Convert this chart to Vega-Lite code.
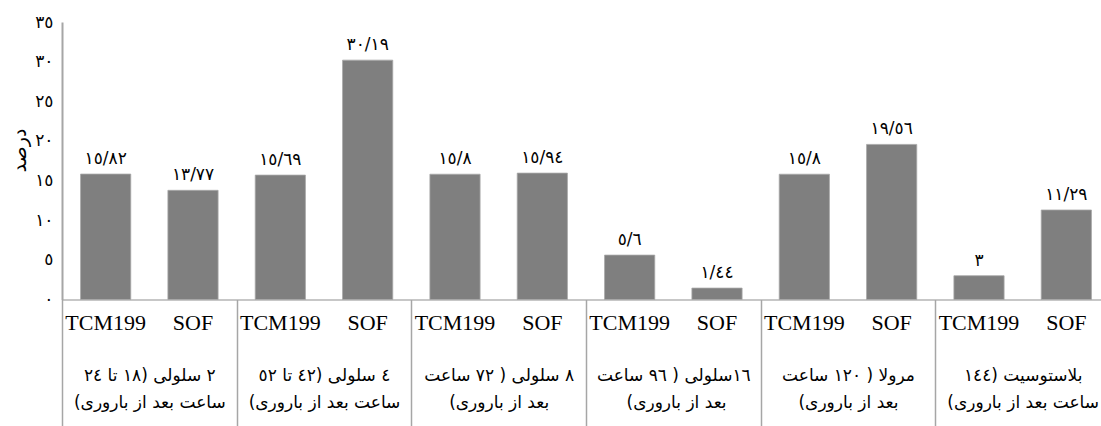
{
  "$schema": "https://vega.github.io/schema/vega-lite/v6.json",
  "autosize": {"type": "none"},
  "padding": {"left": 62, "top": 22, "right": 0, "bottom": 126.5},
  "width": 1039,
  "height": 277.5,
  "background": "white",
  "config": {"view": {"stroke": null}, "font": "Liberation Serif, DejaVu Sans"},
  "data": {
    "values": [
      {"key": "1|TCM199", "group": "٢ سلولی (١٨ تا ٢٤|ساعت بعد از باروری)\u200f", "series": "TCM199", "value": 15.82, "label": "١٥/٨٢"},
      {"key": "1|SOF", "group": "٢ سلولی (١٨ تا ٢٤|ساعت بعد از باروری)\u200f", "series": "SOF", "value": 13.77, "label": "١٣/٧٧"},
      {"key": "2|TCM199", "group": "٤ سلولی (٤٢ تا ٥٢|ساعت بعد از باروری)\u200f", "series": "TCM199", "value": 15.69, "label": "١٥/٦٩"},
      {"key": "2|SOF", "group": "٤ سلولی (٤٢ تا ٥٢|ساعت بعد از باروری)\u200f", "series": "SOF", "value": 30.19, "label": "٣٠/١٩"},
      {"key": "3|TCM199", "group": "٨ سلولی ( ٧٢ ساعت|بعد از باروری)\u200f", "series": "TCM199", "value": 15.8, "label": "١٥/٨"},
      {"key": "3|SOF", "group": "٨ سلولی ( ٧٢ ساعت|بعد از باروری)\u200f", "series": "SOF", "value": 15.94, "label": "١٥/٩٤"},
      {"key": "4|TCM199", "group": "١٦سلولی ( ٩٦ ساعت|بعد از باروری) \u200f", "series": "TCM199", "value": 5.6, "label": "٥/٦"},
      {"key": "4|SOF", "group": "١٦سلولی ( ٩٦ ساعت|بعد از باروری) \u200f", "series": "SOF", "value": 1.44, "label": "١/٤٤"},
      {"key": "5|TCM199", "group": "مرولا ( ١٢٠ ساعت|بعد از باروری)\u200f", "series": "TCM199", "value": 15.8, "label": "١٥/٨"},
      {"key": "5|SOF", "group": "مرولا ( ١٢٠ ساعت|بعد از باروری)\u200f", "series": "SOF", "value": 19.56, "label": "١٩/٥٦"},
      {"key": "6|TCM199", "group": "بلاستوسیت (١٤٤|ساعت بعد از باروری)\u200f", "series": "TCM199", "value": 3, "label": "٣"},
      {"key": "6|SOF", "group": "بلاستوسیت (١٤٤|ساعت بعد از باروری)\u200f", "series": "SOF", "value": 11.29, "label": "١١/٢٩"}
    ]
  },
  "layer": [
    {
      "encoding": {
        "x": {
          "field": "key", "type": "nominal", "sort": null,
          "scale": {"range": [0, 1048], "paddingInner": 0.425, "paddingOuter": 0.2125},
          "axis": {
            "orient": "bottom", "title": null, "ticks": false, "labelAngle": 0,
            "labelExpr": "split(datum.label, '|')[1]",
            "labelFont": "Liberation Serif, Times New Roman, serif", "labelFontSize": 22, "labelColor": "#000000",
            "labelPadding": 13, "domainColor": "#b4b4b4", "domainWidth": 1.5
          }
        },
        "y": {
          "field": "value", "type": "quantitative",
          "scale": {"domain": [0, 35], "nice": false},
          "axis": {
            "values": [0, 5, 10, 15, 20, 25, 30, 35], "grid": false, "ticks": false, "labelOverlap": false,
            "labelExpr": "replace(replace(replace(replace(replace(datum.label, '0', '٠'), '5', '٥'), '1', '١'), '2', '٢'), '3', '٣')",
            "labelFont": "DejaVu Sans", "labelFontSize": 17, "labelColor": "#000000", "labelPadding": 9,
            "domainColor": "#a6a6a6", "domainWidth": 2,
            "title": "درصد", "titleFont": "DejaVu Sans", "titleFontSize": 19, "titleFontWeight": "normal",
            "titleColor": "#000000", "titlePadding": 5, "titleY": 128
          }
        }
      },
      "layer": [
        {"mark": {"type": "bar", "color": "#7f7f7f", "stroke": "#a8a8a8", "strokeWidth": 0.8}},
        {
          "mark": {"type": "text", "baseline": "bottom", "dy": -6, "font": "DejaVu Sans", "fontSize": 17, "color": "#000000"},
          "encoding": {"text": {"field": "label"}}
        }
      ]
    },
    {
      "mark": {"type": "rule", "opacity": 0},
      "encoding": {
        "x": {
          "field": "group", "type": "nominal", "sort": null,
          "scale": {"range": [0, 1048], "paddingInner": 0, "paddingOuter": 0},
          "axis": {
            "orient": "bottom", "title": null, "domain": false, "labelAngle": 0,
            "tickBand": "extent", "tickSize": 130, "tickColor": "#a6a6a6", "tickWidth": 1.5,
            "labelExpr": "split(datum.label, '|')",
            "labelFont": "DejaVu Sans", "labelFontSize": 17, "labelColor": "#000000",
            "labelBaseline": "top", "labelLineHeight": 27, "labelPadding": -62
          }
        }
      }
    }
  ],
  "resolve": {"scale": {"x": "independent"}, "axis": {"x": "independent"}}
}
